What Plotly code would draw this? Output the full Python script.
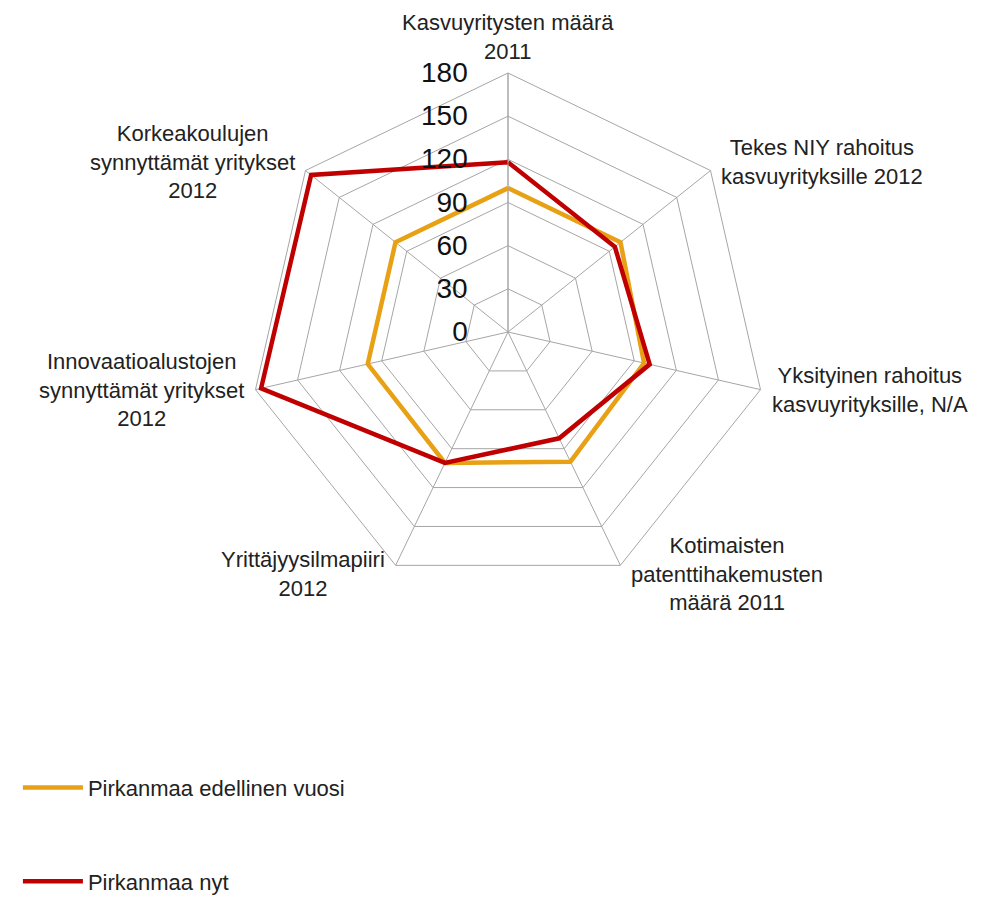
import math
import plotly.graph_objects as go

categories = [
    "Kasvuyritysten määrä<br>2011",
    "Tekes NIY rahoitus<br>kasvuyrityksille 2012",
    "Yksityinen rahoitus<br>kasvuyrityksille, N/A",
    "Kotimaisten<br>patenttihakemusten<br>määrä 2011",
    "Yrittäjyysilmapiiri<br>2012",
    "Innovaatioalustojen<br>synnyttämät yritykset<br>2012",
    "Korkeakoulujen<br>synnyttämät yritykset<br>2012",
]
prev_year = [100, 100, 97, 100, 101, 100, 100]
now = [118, 95, 101, 82, 101, 176, 175]
radial_ticks = [0, 30, 60, 90, 120, 150, 180]

series_names = ["Pirkanmaa edellinen vuosi", "Pirkanmaa nyt"]
colors = ["#E8A014", "#C00000"]

fig = go.Figure()
for name, vals, col in zip(series_names, [prev_year, now], colors):
    fig.add_trace(go.Scatterpolar(
        r=vals + vals[:1],
        theta=categories + categories[:1],
        mode="lines",
        name=name,
        legendgroup=name,
        line=dict(color=col, width=4.5),
    ))

W, H = 992, 898
cx, cy, R = 500, 324, 259
fig.update_layout(
    width=W, height=H,
    margin=dict(l=0, r=0, t=0, b=0),
    paper_bgcolor="white",
    plot_bgcolor="white",
    font=dict(family="Liberation Sans, Arial, sans-serif", color="#222222"),
    polar=dict(
        domain=dict(x=[(cx - R) / W, (cx + R) / W], y=[1 - (cy + R) / H, 1 - (cy - R) / H]),
        bgcolor="white",
        gridshape="linear",
        radialaxis=dict(
            range=[0, 180],
            tickvals=radial_ticks,
            ticktext=[str(v) for v in radial_ticks],
            angle=90,
            tickangle=90,
            side="counterclockwise",
            showline=True,
            linecolor="#A6A6A6",
            linewidth=1,
            gridcolor="#A6A6A6",
            gridwidth=1,
            ticks="outside",
            ticklen=30,
            tickcolor="rgba(0,0,0,0)",
            tickfont=dict(size=28, color="#111111"),
        ),
        angularaxis=dict(
            rotation=90,
            direction="clockwise",
            showline=True,
            linecolor="#A6A6A6",
            linewidth=1,
            gridcolor="#A6A6A6",
            gridwidth=1,
            ticks="",
            showticklabels=False,
        ),
    ),
    legend=dict(
        x=0.01, y=0.155, xanchor="left", yanchor="top",
        orientation="v",
        font=dict(size=22, color="#222222"),
        tracegroupgap=62,
        itemwidth=60,
        bgcolor="rgba(0,0,0,0)",
    ),
    showlegend=True,
)

# category labels placed around the polygon, derived from the category angle
n = len(categories)
for i, lab in enumerate(categories):
    ang = math.radians(90 - 360 * i / n)
    dx, dy = math.cos(ang), math.sin(ang)
    vx = cx + R * dx
    vy = cy - R * dy
    if abs(dx) < 0.2:
        xa, ya = "center", "bottom"
        px, py = vx, vy - 8
    else:
        xa = "left" if dx > 0 else "right"
        ya = "middle"
        px = vx + (10 if dx > 0 else -10)
        if dy > 0.5:
            py = vy - 9
        elif dy < -0.5:
            py = vy + 9
        else:
            py = vy
    fig.add_annotation(
        x=px / W, y=1 - py / H, xref="paper", yref="paper",
        text=lab, showarrow=False, xanchor=xa, yanchor=ya, align="center",
        borderpad=0,
        font=dict(size=22, color="#222222"),
    )

fig.write_html("out.html")
